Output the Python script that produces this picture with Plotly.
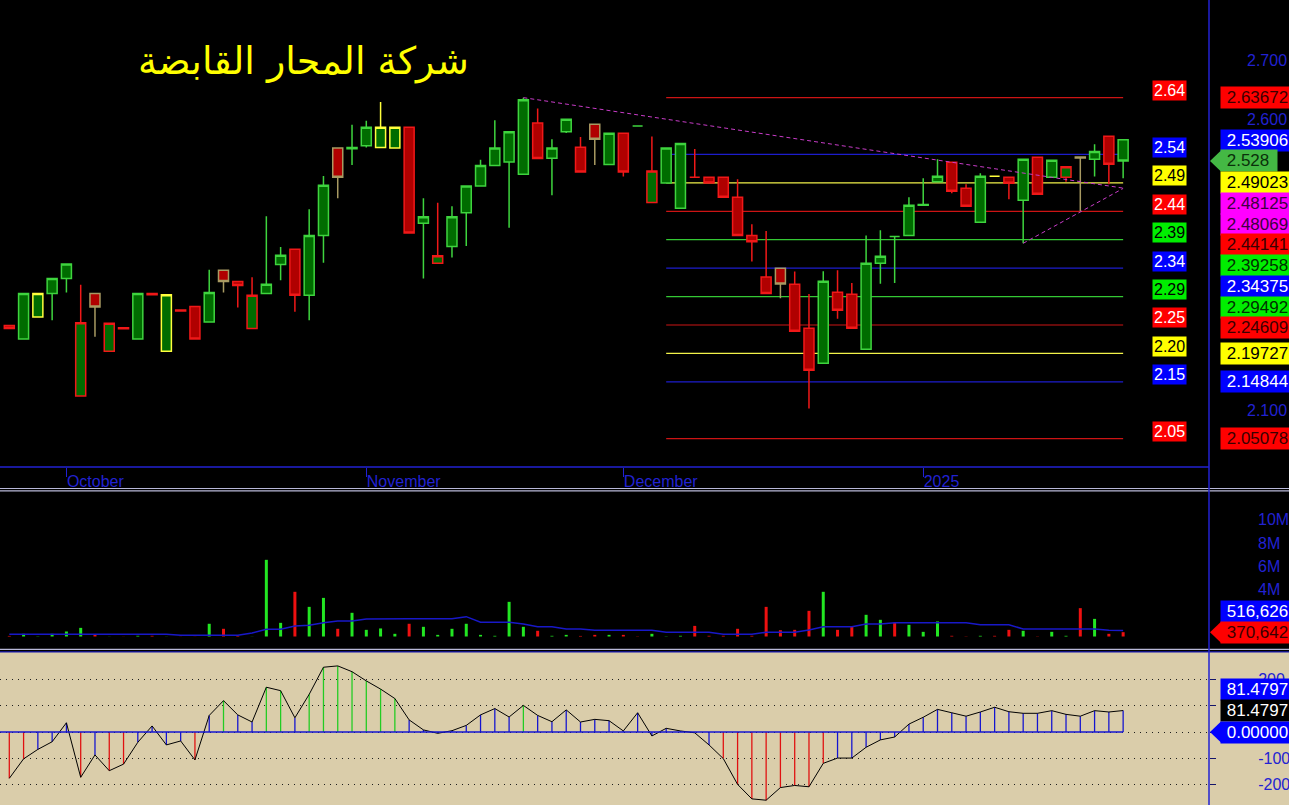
import plotly.graph_objects as go

# ---------------- values ----------------
title_text = "شركة المحار القابضة"
month_ticks = [4, 25, 43, 64]
month_labels = ["October", "November", "December", "2025"]

open_p = [2.245, 2.222, 2.260, 2.300, 2.326, 2.124, 2.300, 2.201, 2.2415, 2.222,
          2.300, 2.201, 2.272, 2.278, 2.251, 2.340, 2.321, 2.240, 2.300, 2.350,
          2.376, 2.297, 2.400, 2.550, 2.549, 2.554, 2.551, 2.550, 2.586, 2.421,
          2.352, 2.381, 2.439, 2.485, 2.520, 2.526, 2.505, 2.593, 2.5325, 2.578,
          2.5515, 2.591, 2.522, 2.5756, 2.588, 2.4564, 2.490, 2.4466, 2.500, 2.500,
          2.500, 2.4656, 2.400, 2.3285, 2.3436, 2.316, 2.2406, 2.1804, 2.3022, 2.2988,
          2.2043, 2.352, 2.398, 2.400, 2.452, 2.4923, 2.5256, 2.481, 2.4227, 2.5015,
          2.500, 2.4604, 2.5342, 2.500, 2.500, 2.5345, 2.5308, 2.5703, 2.5644]
high_p = [2.246, 2.300, 2.300, 2.326, 2.351, 2.315, 2.300, 2.249, 2.2415, 2.300,
          2.300, 2.298, 2.272, 2.278, 2.341, 2.340, 2.321, 2.328, 2.433, 2.380,
          2.376, 2.445, 2.502, 2.550, 2.590, 2.597, 2.629, 2.586, 2.586, 2.464,
          2.456, 2.450, 2.485, 2.530, 2.598, 2.578, 2.63672, 2.618, 2.565, 2.600,
          2.569, 2.591, 2.577, 2.576, 2.588, 2.570, 2.550, 2.558, 2.5485, 2.500,
          2.500, 2.4966, 2.419, 2.4076, 2.3436, 2.3378, 2.2993, 2.3385, 2.340, 2.318,
          2.400, 2.409, 2.398, 2.4656, 2.498, 2.531, 2.5256, 2.488, 2.5067, 2.503,
          2.500, 2.5308, 2.5342, 2.529, 2.518, 2.5345, 2.5565, 2.5703, 2.5644]
low_p = [2.240, 2.222, 2.260, 2.254, 2.302, 2.124, 2.226, 2.201, 2.2395, 2.222,
         2.298, 2.201, 2.270, 2.222, 2.251, 2.302, 2.276, 2.240, 2.300, 2.323,
         2.269, 2.254, 2.353, 2.464, 2.521, 2.551, 2.551, 2.550, 2.404, 2.326,
         2.352, 2.362, 2.382, 2.485, 2.520, 2.413, 2.505, 2.532, 2.469, 2.576,
         2.509, 2.521, 2.522, 2.501, 2.588, 2.4564, 2.490, 2.4466, 2.500, 2.490,
         2.4656, 2.400, 2.355, 2.300, 2.292, 2.2354, 2.1024, 2.1804, 2.257, 2.2406,
         2.2043, 2.317, 2.318, 2.400, 2.452, 2.4923, 2.4724, 2.450, 2.4227, 2.5015,
         2.462, 2.3864, 2.4706, 2.500, 2.4923, 2.4414, 2.501, 2.4878, 2.498]
close_p = [2.240, 2.300, 2.300, 2.326, 2.351, 2.250, 2.277, 2.249, 2.2395, 2.300,
           2.298, 2.298, 2.270, 2.222, 2.302, 2.321, 2.314, 2.297, 2.316, 2.366,
           2.297, 2.400, 2.486, 2.500, 2.551, 2.586, 2.586, 2.586, 2.404, 2.432,
           2.365, 2.432, 2.485, 2.520, 2.550, 2.578, 2.633, 2.532, 2.550, 2.5995,
           2.509, 2.565, 2.5756, 2.509, 2.588, 2.5107, 2.550, 2.558, 2.500, 2.490,
           2.4656, 2.400, 2.389, 2.300, 2.3165, 2.2354, 2.1684, 2.3212, 2.2713, 2.2406,
           2.352, 2.364, 2.398, 2.4517, 2.453, 2.5015, 2.4759, 2.450, 2.5015, 2.5015,
           2.4897, 2.5308, 2.4706, 2.529, 2.518, 2.533, 2.5443, 2.5222, 2.528]

volume = [50000, 230000, 20000, 230000, 430000, 740000, 200000, 10000, 10000, 60000,
          60000, 10000, 10000, 10000, 1090000, 660000, 60000, 10000, 6570000, 1170000,
          3830000, 2540000, 3310000, 660000, 2030000, 570000, 690000, 230000, 1090000, 830000,
          140000, 660000, 1090000, 140000, 60000, 2970000, 830000, 490000, 60000, 140000,
          50000, 140000, 140000, 140000, 20000, 230000, 20000, 60000, 910000, 60000,
          60000, 660000, 60000, 2540000, 540000, 570000, 2200000, 3830000, 570000, 890000,
          1860000, 1430000, 1200000, 1000000, 400000, 1290000, 60000, 20000, 60000, 60000,
          570000, 490000, 20000, 400000, 60000, 2430000, 1510000, 230000, 370642]
volume_ma = [200000, 190000, 190000, 190000, 190000, 190000, 190000, 190000, 190000, 190000,
             190000, 190000, 110000, 110000, 110000, 110000, 110000, 300000, 620000, 620000,
             900000, 960000, 1180000, 1330000, 1330000, 1500000, 1530000, 1530000, 1530000, 1530000,
             1530000, 1530000, 1700000, 1220000, 1220000, 1220000, 1070000, 840000, 840000, 640000,
             640000, 530000, 530000, 530000, 530000, 530000, 360000, 360000, 360000, 360000,
             190000, 190000, 190000, 360000, 360000, 360000, 560000, 840000, 840000, 840000,
             1070000, 1070000, 1180000, 1180000, 1180000, 1180000, 1180000, 1180000, 1010000, 1010000,
             1010000, 640000, 640000, 640000, 640000, 640000, 640000, 530000, 516626]
osc = [-176, -102, -66, -37, 35, -172, -87, -147, -122, -39,
       23, -49, -34, -106, 63, 119, 65, 38, 170, 157,
       54, 143, 246, 251, 229, 194, 163, 127, 46, 8,
       -5, 5, 25, 65, 89, 57, 101, 63, 39, 84,
       38, 48, 43, 4, 73, -15, 14, 4, -3, -49,
       -101, -199, -254, -259, -211, -203, -208, -119, -99, -99,
       -58, -30, -19, 30, 56, 86, 73, 60, 76, 94,
       77, 71, 71, 81, 67, 60, 81, 76, 81.4797]

fib_levels = [2.63672, 2.53906, 2.49023, 2.44141, 2.39258, 2.34375,
              2.29492, 2.24609, 2.19727, 2.14844, 2.05078]
fib_start = 46
trend1_x = [36, 78]
trend1_y = [2.63672, 2.48125]
trend2_x = [71, 78]
trend2_y = [2.3864, 2.48069]
price_ticks = [2.1, 2.6, 2.7]
volume_ticks = [2e6, 4e6, 6e6, 8e6, 10e6]
osc_ticks = [-200, -100, 0, 100, 200]

# ---------------- styling / geometry ----------------
fib_kinds = ["red", "blue", "yellow", "red", "green", "blue", "green", "red", "yellow", "blue", "red"]
LINE_C = {"red": "#CC1414", "blue": "#1C1CCC", "yellow": "#F2F24A", "green": "#34C834"}
BOX_BG = {"red": "#FF0000", "blue": "#0000FF", "yellow": "#FFFF00", "green": "#00EE00", "magenta": "#FF00FF"}
BOX_FG_R = {"red": "#3A0000", "blue": "#FFFFFF", "yellow": "#000000", "green": "#003000", "magenta": "#400040"}
BOX_FG_L = {"red": "#FFFFFF", "blue": "#FFFFFF", "yellow": "#000000", "green": "#000000"}

GREEN_FILL, RED_FILL = "#006C00", "#B00000"
GREEN_EDGE, RED_EDGE, YELLOW_EDGE, KHAKI_EDGE = "#3ED43E", "#F01818", "#FFFF3C", "#A89A62"
VOL_UP, VOL_DN, VOL_MA = "#22E622", "#EE1010", "#1818C8"
OSC_G, OSC_R, OSC_B = "#22CC22", "#E01010", "#1414D0"
AXIS_BLUE = "#2222D2"
TAN = "#DACDAA"
FONT = "Liberation Sans"

W, H = 1289, 805
PLOT_R = 1209
X0_PX, X_STEP = 9.3, 14.28
n = len(close_p)
idx = list(range(n))
xr = [(0 - X0_PX) / X_STEP, (PLOT_R - X0_PX) / X_STEP]

PP = dict(top=0, bot=467, rng=[2.00206, 2.80447])
VP = dict(top=492, bot=648, rng=[-0.985e6, 12.382e6])
OP = dict(top=652, bot=805, rng=[-277.2, 303.8])


def dom(p):
    return [1 - p["bot"] / H, 1 - p["top"] / H]


def v2px(p, v):
    lo, hi = p["rng"]
    return p["top"] + (hi - v) / (hi - lo) * (p["bot"] - p["top"])


def py(px):
    return 1 - px / H


def pxx(px):
    return px / PLOT_R


fig = go.Figure()

# trend lines (dashed magenta)
for tx, ty in [(trend1_x, trend1_y), (trend2_x, trend2_y)]:
    fig.add_trace(go.Scatter(x=tx, y=ty, mode="lines", xaxis="x", yaxis="y",
                             line=dict(color="#C83CC8", width=1, dash="4px,3px"),
                             hoverinfo="skip", showlegend=False))

# candle colours: body by close vs open, outline by close vs previous close
fills, edges = [], []
for i in range(n):
    if i == n - 1:  # the live (last) bar is painted with the up palette in the source
        fills.append(GREEN_FILL)
        edges.append(GREEN_EDGE)
        continue
    fills.append(GREEN_FILL if close_p[i] > open_p[i] else RED_FILL)
    if i == 0 or close_p[i] < close_p[i - 1]:
        edges.append(RED_EDGE)
    elif close_p[i] > close_p[i - 1]:
        edges.append(GREEN_EDGE if close_p[i] >= open_p[i] else KHAKI_EDGE)
    else:
        edges.append(YELLOW_EDGE)

groups = {}
for i in range(n):
    groups.setdefault((fills[i], edges[i]), []).append(i)
for (fc, ec), ids in groups.items():
    style = dict(fillcolor=fc, line=dict(color=ec, width=1.5))
    fig.add_trace(go.Candlestick(
        x=[idx[i] for i in ids], open=[open_p[i] for i in ids], high=[high_p[i] for i in ids],
        low=[low_p[i] for i in ids], close=[close_p[i] for i in ids],
        increasing=style, decreasing=style, whiskerwidth=0,
        xaxis="x", yaxis="y", hoverinfo="skip", showlegend=False))

# volume
vol_colors = [VOL_UP if close_p[i] > open_p[i] else VOL_DN for i in range(n)]
fig.add_trace(go.Bar(x=idx, y=volume, width=0.21, marker=dict(color=vol_colors, line=dict(width=0)),
                     xaxis="x2", yaxis="y2", hoverinfo="skip", showlegend=False))
fig.add_trace(go.Scatter(x=idx, y=volume_ma, mode="lines", line=dict(color=VOL_MA, width=1.5),
                         xaxis="x2", yaxis="y2", hoverinfo="skip", showlegend=False))

# oscillator
osc_colors = [OSC_G if v > 100 else (OSC_R if v < -100 else OSC_B) for v in osc]
fig.add_trace(go.Bar(x=idx, y=osc, width=0.09, marker=dict(color=osc_colors, line=dict(width=0)),
                     xaxis="x3", yaxis="y3", hoverinfo="skip", showlegend=False))
fig.add_trace(go.Scatter(x=idx, y=osc, mode="lines", line=dict(color="#000000", width=1),
                         xaxis="x3", yaxis="y3", hoverinfo="skip", showlegend=False))

shapes = []
# tan background of the oscillator pane (full width)
shapes.append(dict(type="rect", xref="paper", yref="paper", x0=0, x1=W / PLOT_R, y0=0, y1=py(OP["top"]),
                   fillcolor=TAN, line=dict(width=0), layer="below"))
# fib lines
for lv, k in zip(fib_levels, fib_kinds):
    shapes.append(dict(type="line", xref="x", yref="y", x0=fib_start, x1=n - 1, y0=lv, y1=lv,
                       line=dict(color=LINE_C[k], width=1.2), layer="below"))
# oscillator zero line
shapes.append(dict(type="line", xref="x3", yref="y3", x0=xr[0], x1=n - 1, y0=0, y1=0,
                   line=dict(color=OSC_B, width=1.5)))
# pane frames
shapes.append(dict(type="line", xref="paper", yref="paper", x0=0, x1=1, y0=py(PP["bot"]), y1=py(PP["bot"]),
                   line=dict(color=AXIS_BLUE, width=1.5)))
for ypx, col in [(488.5, "#B8B8D8"), (490.8, "#B8B8D8"), (649.3, "#B8B8D8"), (651.8, "#1818B0")]:
    shapes.append(dict(type="line", xref="paper", yref="paper", x0=0, x1=W / PLOT_R, y0=py(ypx), y1=py(ypx),
                       line=dict(color=col, width=1.2)))
shapes.append(dict(type="line", xref="paper", yref="paper", x0=1, x1=1, y0=0, y1=1,
                   line=dict(color=AXIS_BLUE, width=1.5)))

annotations = []
# title
annotations.append(dict(xref="paper", yref="paper", x=pxx(303), y=py(62), xanchor="center", yanchor="middle",
                        text=title_text, showarrow=False,
                        font=dict(color="#FFFF00", size=38, family="DejaVu Sans")))
# left fib labels
for lv, k in zip(fib_levels, fib_kinds):
    annotations.append(dict(xref="paper", yref="paper", x=pxx(1169), y=py(v2px(PP, lv) - 7),
                            xanchor="center", yanchor="middle",
                            text=f"{lv:.2f}", showarrow=False, bgcolor=BOX_BG[k], borderpad=1,
                            font=dict(color=BOX_FG_L[k], size=16, family=FONT)))

STEP = 20.7
BOX_L = 1220


def place(entries, p):
    a = next(k for k, e in enumerate(entries) if e.get("anchor"))
    ys = [v2px(p, e["v"]) for e in entries]
    out = ys[:]
    for k in range(a + 1, len(entries)):
        out[k] = max(ys[k], out[k - 1] + STEP)
    for k in range(a - 1, -1, -1):
        out[k] = min(ys[k], out[k + 1] - STEP)
    return out


def add_boxes(entries, p):
    ys = place(entries, p)
    for e, ypx in zip(entries, ys):
        annotations.append(dict(xref="paper", yref="paper", x=pxx(BOX_L), y=py(ypx), xanchor="left",
                                yanchor="middle", text="\u00a0" + e["t"], showarrow=False,
                                width=e.get("w", W - BOX_L), align="left",
                                bgcolor=e["bg"], borderpad=1,
                                font=dict(color=e["fg"], size=17, family=FONT)))
        if e.get("anchor"):
            shapes.append(dict(type="path", xref="paper", yref="paper",
                               path=f"M {pxx(1210)},{py(ypx)} L {pxx(BOX_L + 1)},{py(ypx - 10.5)} "
                                    f"L {pxx(BOX_L + 1)},{py(ypx + 10.5)} Z",
                               fillcolor=e["bg"], line=dict(width=0)))


price_entries = [dict(v=lv, t=f"{lv:.5f}", bg=BOX_BG[k], fg=BOX_FG_R[k]) for lv, k in zip(fib_levels, fib_kinds)]
price_entries += [dict(v=trend1_y[-1], t=f"{trend1_y[-1]:.5f}", bg=BOX_BG["magenta"], fg=BOX_FG_R["magenta"]),
                  dict(v=trend2_y[-1], t=f"{trend2_y[-1]:.5f}", bg=BOX_BG["magenta"], fg=BOX_FG_R["magenta"]),
                  dict(v=close_p[-1], t=f"{close_p[-1]:.3f}", bg="#44B844", fg="#0A300A", anchor=True, w=54)]
price_entries.sort(key=lambda e: -e["v"])
add_boxes(price_entries, PP)

add_boxes([dict(v=volume_ma[-1], t=f"{volume_ma[-1]:,}", bg="#0000FF", fg="#FFFFFF"),
           dict(v=volume[-1], t=f"{volume[-1]:,}", bg="#FF0000", fg="#3A0000", anchor=True)], VP)

add_boxes([dict(v=osc[-1], t=f"{osc[-1]:.4f}", bg="#0000FF", fg="#FFFFFF"),
           dict(v=osc[-1], t=f"{osc[-1]:.4f}", bg="#000000", fg="#FFFFFF"),
           dict(v=0, t=f"{0:.5f}", bg="#0000FF", fg="#FFFFFF", anchor=True)], OP)

tickfont = dict(color=AXIS_BLUE, size=16, family=FONT)
common_x = dict(range=xr, domain=[0, 1], showgrid=False, zeroline=False, showline=False, fixedrange=True)

fig.update_layout(
    width=W, height=H, margin=dict(l=0, r=W - PLOT_R, t=0, b=0),
    paper_bgcolor="#000000", plot_bgcolor="rgba(0,0,0,0)",
    showlegend=False, hovermode=False, boxgap=0.3, boxgroupgap=0,
    xaxis=dict(**common_x, anchor="y", tickmode="array", tickvals=month_ticks, ticktext=month_labels,
               ticks="outside", ticklen=9, tickwidth=1, tickcolor=AXIS_BLUE,
               ticklabelposition="outside right", tickfont=dict(color=AXIS_BLUE, size=16, family=FONT),
               rangeslider=dict(visible=False)),
    xaxis2=dict(**common_x, anchor="y2", showticklabels=False, ticks=""),
    xaxis3=dict(**common_x, anchor="y3", showticklabels=False, ticks=""),
    yaxis=dict(domain=dom(PP), range=PP["rng"], anchor="x", side="right", tickmode="array",
               tickvals=price_ticks, ticktext=[f"{v:.3f}" for v in price_ticks], ticks="",
               showgrid=False, zeroline=False, tickfont=tickfont, ticklabelstandoff=37, fixedrange=True),
    yaxis2=dict(domain=dom(VP), range=VP["rng"], anchor="x2", side="right", tickmode="array",
                tickvals=volume_ticks, ticktext=[f"{int(v / 1e6)}M" for v in volume_ticks], ticks="",
                showgrid=False, zeroline=False, tickfont=tickfont, ticklabelstandoff=48, fixedrange=True),
    yaxis3=dict(domain=dom(OP), range=OP["rng"], anchor="x3", side="right", tickmode="array",
                tickvals=osc_ticks, ticktext=[str(v) for v in osc_ticks], ticks="outside", ticklen=6,
                tickcolor="#14146A", showgrid=True, gridcolor="#1E1E1E", griddash="1px,5px", gridwidth=1,
                zeroline=False, tickfont=tickfont, ticklabelstandoff=39, fixedrange=True),
    shapes=shapes, annotations=annotations,
)

fig.write_html(
    "out.html", config={"displayModeBar": False, "staticPlot": True},
    post_script=("document.documentElement.style.overflow='hidden';"
                 "document.body.style.margin='0';document.body.style.overflow='hidden';"
                 "document.querySelectorAll('.plotly-graph-div,.svg-container')"
                 ".forEach(function(e){e.style.overflow='hidden';});"))
